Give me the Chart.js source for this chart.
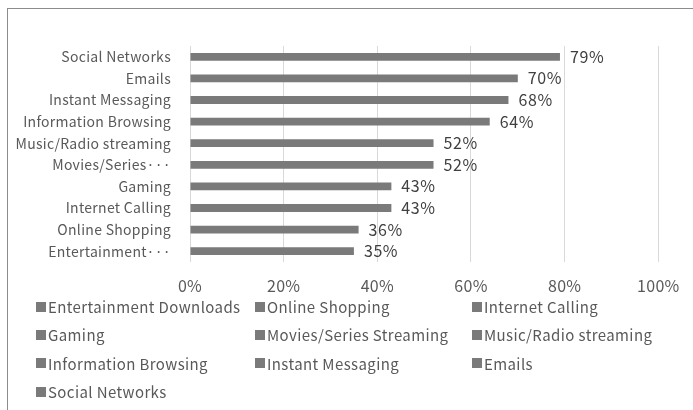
<!DOCTYPE html>
<html>
<head>
<meta charset="utf-8">
<script src="https://cdn.jsdelivr.net/npm/chart.js@4/dist/chart.umd.min.js"></script>
<style>
  html, body { margin: 0; padding: 0; background: #ffffff; }
  #wrap { position: relative; width: 693px; height: 410px; overflow: hidden; }
  #frame { position: absolute; left: 7px; top: 8px; width: 700px; height: 420px;
           border-top: 1px solid #8c8c8c; border-left: 1px solid #8c8c8c; pointer-events: none; }
  canvas { position: absolute; left: 0; top: 0; }
  #legend { position: absolute; left: 36px; top: 296px; display: grid;
            grid-template-columns: 219px 217px 200px; grid-auto-rows: 28.4px;
            font-family: "Noto Sans CJK JP", sans-serif; font-size: 15px; color: #595959;
            letter-spacing: 0.4px; }
  #legend .item { display: flex; align-items: center; white-space: nowrap; height: 21px; }
  #legend .box { width: 10px; height: 10px; background: #7a7a7a; margin-right: 2px; flex: none; }
</style>
</head>
<body>
<div id="wrap">
  <canvas id="c" width="693" height="410"></canvas>
  <div id="frame"></div>
  <div id="legend"></div>
</div>
<script>
// Categories in source (legend) order; the axis shows them bottom-to-top.
const categories = ["Entertainment Downloads", "Online Shopping", "Internet Calling", "Gaming",
  "Movies/Series Streaming", "Music/Radio streaming", "Information Browsing",
  "Instant Messaging", "Emails", "Social Networks"];
const axisLabels = ["Entertainment\u00B7\u00B7\u00B7", "Online Shopping", "Internet Calling", "Gaming",
  "Movies/Series\u00B7\u00B7\u00B7", "Music/Radio streaming", "Information Browsing",
  "Instant Messaging", "Emails", "Social Networks"];
const values = [35, 36, 43, 43, 52, 52, 64, 68, 70, 79];
const xTicks = [0, 20, 40, 60, 80, 100];

const barColor = "#7a7a7a";
const fontFamily = '"Noto Sans CJK JP", sans-serif';

// one dataset per category (each with its value at its own index)
const datasets = categories.map((name, i) => ({
  label: name,
  data: values.map((v, j) => (j === i ? v : null)),
  backgroundColor: barColor,
  borderWidth: 0,
  barPercentage: 0.36,
  categoryPercentage: 1.0,
  skipNull: true
}));

const spacing = {
  id: "spacing",
  beforeDraw(chart) { chart.ctx.letterSpacing = "0.3px"; }
};

const valueLabels = {
  id: "valueLabels",
  afterDatasetsDraw(chart) {
    const ctx = chart.ctx;
    ctx.save();
    ctx.letterSpacing = "0.6px";
    ctx.font = "16px " + fontFamily;
    ctx.fillStyle = "#404040";
    ctx.textAlign = "left";
    ctx.textBaseline = "middle";
    chart.data.datasets.forEach((ds, i) => {
      const meta = chart.getDatasetMeta(i);
      meta.data.forEach((el, j) => {
        const v = ds.data[j];
        if (v === null || v === undefined) return;
        ctx.fillText(v + "%", el.x + 10, el.y);
      });
    });
    ctx.restore();
  }
};

new Chart(document.getElementById("c"), {
  type: "bar",
  data: { labels: axisLabels, datasets },
  options: {
    responsive: false,
    animation: false,
    indexAxis: "y",
    layout: { padding: { top: 46, right: 31, bottom: 118, left: 0 } },
    plugins: { legend: { display: false }, tooltip: { enabled: false } },
    scales: {
      x: {
        min: 0, max: 100,
        afterBuildTicks(scale) { scale.ticks = xTicks.map(v => ({ value: v })); },
        afterFit(scale) { scale.height = 30; },
        grid: { color: "#d9d9d9", lineWidth: 1, drawTicks: false },
        border: { display: false },
        ticks: { padding: 14, color: "#595959", font: { family: fontFamily, size: 16 },
                 callback: v => v + "%" }
      },
      y: {
        stacked: true,
        reverse: true,
        afterFit(scale) { scale.width = 190; },
        grid: { display: false, drawTicks: false },
        border: { display: false },
        ticks: { padding: 19, color: "#595959", font: { family: fontFamily, size: 14 } }
      }
    }
  },
  plugins: [spacing, valueLabels]
});

const legend = document.getElementById("legend");
categories.forEach(name => {
  const item = document.createElement("div");
  item.className = "item";
  const box = document.createElement("span");
  box.className = "box";
  const txt = document.createElement("span");
  txt.textContent = name;
  item.appendChild(box);
  item.appendChild(txt);
  legend.appendChild(item);
});
</script>
</body>
</html>
